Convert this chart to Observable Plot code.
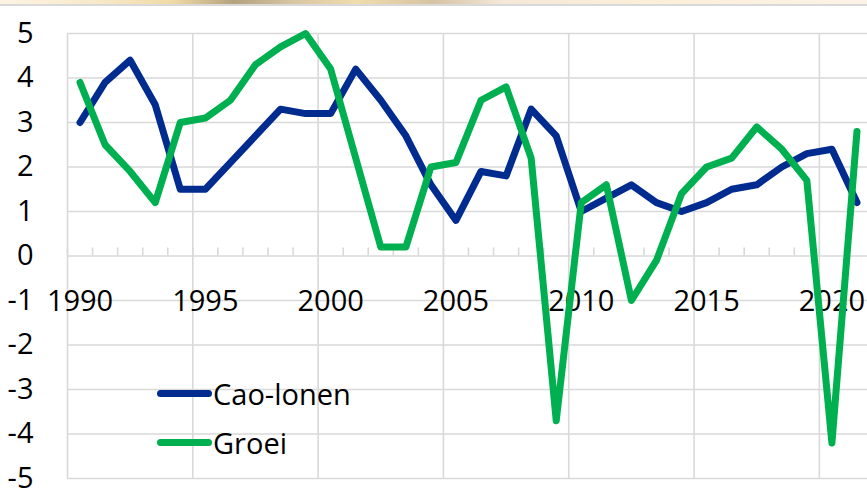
<!DOCTYPE html>
<html>
<head>
<meta charset="utf-8">
<script src="https://cdn.jsdelivr.net/npm/d3@7"></script>
<script src="https://cdn.jsdelivr.net/npm/@observablehq/plot@0.6"></script>
<style>
  body { margin: 0; background: #fff; }
  #wrap { position: relative; width: 867px; height: 491px; overflow: hidden; font-family: "Open Sans", Lato, sans-serif; background: #fff; }
  #strip { position: absolute; left: 0; top: 0; width: 867px; height: 4px;
    background: linear-gradient(90deg, #fcf4e4 0%, #f7e8c6 12%, #f0d9a4 20%, #b4a27f 27%, #d9c6a2 34%, #f0dcac 41%, #d6c3a3 50%, #f4e8d8 58%, #fcefd9 75%, #fbf3e6 100%); }
  #topline { position: absolute; left: 0; top: 4px; width: 867px; height: 2px; background: #d9d9d9; }
  #chart { position: absolute; left: 0; top: 0; }
  .leg { position: absolute; left: 157px; display: flex; align-items: center; font-size: 29px; color: #000; }
  .leg .sw { width: 55px; height: 7px; border-radius: 4px; margin-right: 1px; }
</style>
</head>
<body>
<div id="wrap">
  <div id="chart"></div>
  <div id="strip"></div>
  <div id="topline"></div>
  <div id="legend"></div>
</div>
<script>
const years = [1990,1991,1992,1993,1994,1995,1996,1997,1998,1999,2000,2001,2002,2003,2004,2005,2006,2007,2008,2009,2010,2011,2012,2013,2014,2015,2016,2017,2018,2019,2020,2021];
const caoLonen = [3.0,3.9,4.4,3.4,1.5,1.5,2.1,2.7,3.3,3.2,3.2,4.2,3.5,2.7,1.6,0.8,1.9,1.8,3.3,2.7,1.0,1.3,1.6,1.2,1.0,1.2,1.5,1.6,2.0,2.3,2.4,1.2];
const groei    = [3.9,2.5,1.9,1.2,3.0,3.1,3.5,4.3,4.7,5.0,4.2,2.2,0.2,0.2,2.0,2.1,3.5,3.8,2.2,-3.7,1.2,1.6,-1.0,-0.1,1.4,2.0,2.2,2.9,2.4,1.7,-4.2,2.8];
const seriesNames = ["Cao-lonen", "Groei"];
const seriesColors = ["#002b8f", "#00b050"];
const yTicks = [-5,-4,-3,-2,-1,0,1,2,3,4,5];
const xTickLabels = [1990,1995,2000,2005,2010,2015,2020];

const caoData = years.map((year, i) => ({year, value: caoLonen[i]}));
const groeiData = years.map((year, i) => ({year, value: groei[i]}));
// category boundaries (Excel category axis: points centred in categories)
const boundaries = years.map(y => y - 0.5);
const gridBoundaries = boundaries.filter((b, i) => i % 5 === 0);

const chart = Plot.plot({
  width: 867,
  height: 491,
  marginLeft: 67,
  marginTop: 33,
  marginBottom: 13,
  marginRight: 0,
  style: { fontFamily: "'Open Sans', Lato, sans-serif", color: "#000", background: "transparent" },
  x: { domain: [1989.5, 2021.5], range: [67, 869], axis: null },
  y: { domain: [-5, 5], range: [478, 33], axis: null },
  marks: [
    Plot.ruleY(yTicks, { stroke: "#d9d9d9", strokeWidth: 1.6 }),
    Plot.ruleX(gridBoundaries, { stroke: "#d9d9d9", strokeWidth: 1.6 }),
    Plot.ruleX(boundaries, { y1: 0, y2: 0.18, stroke: "#d9d9d9", strokeWidth: 1.6 }),
    Plot.axisY(yTicks, { tickSize: 0, tickPadding: 34, fontSize: 29, label: null, tickFormat: d => String(d), fill: "#000" }),
    Plot.text(xTickLabels, { x: d => d, y: 0, dy: 46, text: d => String(d), fontSize: 29, fill: "#000" }),
    Plot.line(caoData, { x: "year", y: "value", stroke: seriesColors[0], strokeWidth: 7, strokeLinejoin: "round", strokeLinecap: "round" }),
    Plot.line(groeiData, { x: "year", y: "value", stroke: seriesColors[1], strokeWidth: 7, strokeLinejoin: "round", strokeLinecap: "round" })
  ]
});
document.getElementById("chart").appendChild(chart);

const legend = document.getElementById("legend");
const legTops = [393, 442];
seriesNames.forEach((name, i) => {
  const row = document.createElement("div");
  row.className = "leg";
  row.style.top = (legTops[i] - 20) + "px";
  row.style.height = "40px";
  row.innerHTML = `<span class="sw" style="background:${seriesColors[i]}"></span><span>${name}</span>`;
  legend.appendChild(row);
});
</script>
</body>
</html>
